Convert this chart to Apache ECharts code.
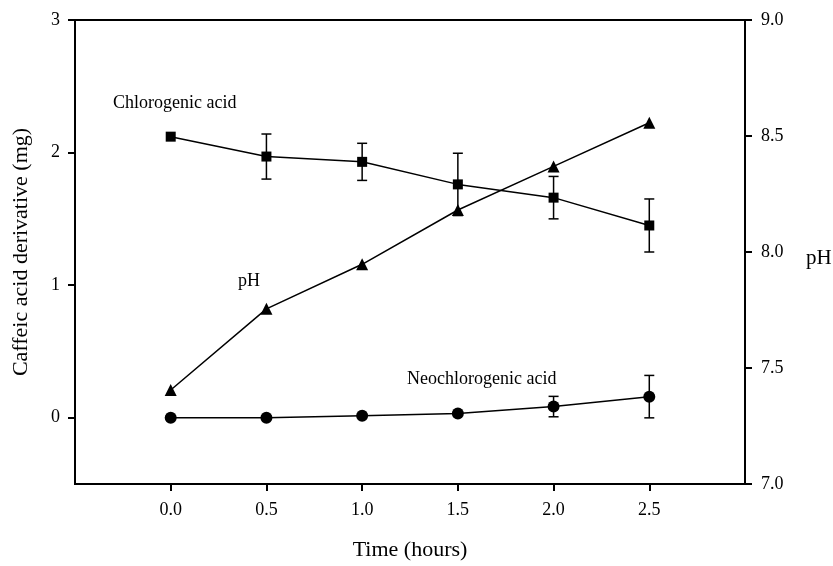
<!DOCTYPE html>
<html>
<head>
<meta charset="utf-8">
<script src="https://cdn.jsdelivr.net/npm/echarts@6/dist/echarts.min.js"></script>
<style>html,body{margin:0;padding:0;background:#fff}#c{width:833px;height:566px}</style>
</head>
<body>
<div id="c"></div>
<script>
var times = [0.0, 0.5, 1.0, 1.5, 2.0, 2.5];
var chlorogenic = [2.12, 1.97, 1.93, 1.76, 1.66, 1.45];
var chlorogenicSD = [0, 0.17, 0.14, 0.235, 0.16, 0.20];
var neochlorogenic = [0.0, 0.0, 0.015, 0.032, 0.084, 0.159];
var neochlorogenicSD = [0, 0, 0, 0, 0.077, 0.16];
var pH = [7.405, 7.755, 7.947, 8.181, 8.369, 8.557];
var xTicks = [0.0, 0.5, 1.0, 1.5, 2.0, 2.5];
var leftTicks = [0, 1, 2, 3];

var FONT = '"Liberation Serif", "Times New Roman", serif';

function pairs(xs, ys) { return xs.map(function (x, i) { return [x, ys[i]]; }); }
function errs(xs, ys, sd) {
  var out = [];
  xs.forEach(function (x, i) { if (sd[i] > 0) out.push([x, ys[i] - sd[i], ys[i] + sd[i]]); });
  return out;
}
function errRender(params, api) {
  var x = api.value(0);
  var lo = api.coord([x, api.value(1)]);
  var hi = api.coord([x, api.value(2)]);
  var w = 5;
  var st = { stroke: '#000', lineWidth: 1.5 };
  return {
    type: 'group',
    children: [
      { type: 'line', shape: { x1: lo[0], y1: lo[1], x2: hi[0], y2: hi[1] }, style: st },
      { type: 'line', shape: { x1: lo[0] - w, y1: lo[1], x2: lo[0] + w, y2: lo[1] }, style: st },
      { type: 'line', shape: { x1: hi[0] - w, y1: hi[1], x2: hi[0] + w, y2: hi[1] }, style: st }
    ]
  };
}

var chart = echarts.init(document.getElementById('c'));
var axisLine = { show: true, onZero: false, lineStyle: { color: '#000', width: 2 } };
chart.setOption({
  animation: false,
  backgroundColor: '#fff',
  grid: { left: 75, right: 88, top: 20, bottom: 77, show: true, borderColor: '#000', borderWidth: 2, backgroundColor: 'transparent' },
  xAxis: {
    type: 'value', min: -0.5, max: 3.0,
    name: 'Time (hours)', nameLocation: 'middle', nameGap: 55,
    nameTextStyle: { fontFamily: FONT, fontSize: 22, color: '#000' },
    axisLine: axisLine,
    axisTick: { show: true, length: 7, lineStyle: { color: '#000', width: 2 }, customValues: xTicks },
    axisLabel: { customValues: xTicks, margin: 17, fontFamily: FONT, fontSize: 18, color: '#000',
      formatter: function (v) { return v.toFixed(1); } },
    splitLine: { show: false }
  },
  yAxis: [
    {
      type: 'value', min: -0.5, max: 3, position: 'left',
      name: 'Caffeic acid derivative (mg)', nameLocation: 'middle', nameGap: 43,
      nameTextStyle: { fontFamily: FONT, fontSize: 22, color: '#000' },
      axisLine: axisLine,
      axisTick: { show: true, length: 7, lineStyle: { color: '#000', width: 2 }, customValues: leftTicks },
      axisLabel: { customValues: leftTicks, margin: 15, fontFamily: FONT, fontSize: 18, color: '#000' },
      splitLine: { show: false }
    },
    {
      type: 'value', min: 7.0, max: 9.0, interval: 0.5, position: 'right',
      axisLine: axisLine,
      axisTick: { show: true, length: 7, lineStyle: { color: '#000', width: 2 } },
      axisLabel: { margin: 16, fontFamily: FONT, fontSize: 18, color: '#000',
        formatter: function (v) { return v.toFixed(1); } },
      splitLine: { show: false }
    }
  ],
  series: [
    { type: 'custom', renderItem: errRender, data: errs(times, chlorogenic, chlorogenicSD), yAxisIndex: 0, z: 1, silent: true },
    { type: 'custom', renderItem: errRender, data: errs(times, neochlorogenic, neochlorogenicSD), yAxisIndex: 0, z: 1, silent: true },
    { type: 'line', name: 'Chlorogenic acid', data: pairs(times, chlorogenic), yAxisIndex: 0,
      symbol: 'rect', symbolSize: 10, showAllSymbol: true,
      lineStyle: { color: '#000', width: 1.5 }, itemStyle: { color: '#000' }, z: 3 },
    { type: 'line', name: 'Neochlorogenic acid', data: pairs(times, neochlorogenic), yAxisIndex: 0,
      symbol: 'circle', symbolSize: 12, showAllSymbol: true,
      lineStyle: { color: '#000', width: 1.5 }, itemStyle: { color: '#000' }, z: 3 },
    { type: 'line', name: 'pH', data: pairs(times, pH), yAxisIndex: 1,
      symbol: 'triangle', symbolSize: 12, showAllSymbol: true,
      lineStyle: { color: '#000', width: 1.5 }, itemStyle: { color: '#000' }, z: 3 }
  ],
  graphic: [
    { type: 'text', left: 113, top: 94, style: { text: 'Chlorogenic acid', font: '18px ' + FONT, fill: '#000' } },
    { type: 'text', left: 238, top: 272, style: { text: 'pH', font: '18px ' + FONT, fill: '#000' } },
    { type: 'text', left: 407, top: 370, style: { text: 'Neochlorogenic acid', font: '18px ' + FONT, fill: '#000' } },
    { type: 'text', left: 806, top: 248, style: { text: 'pH', font: '21px ' + FONT, fill: '#000' } }
  ]
});
</script>
</body>
</html>
